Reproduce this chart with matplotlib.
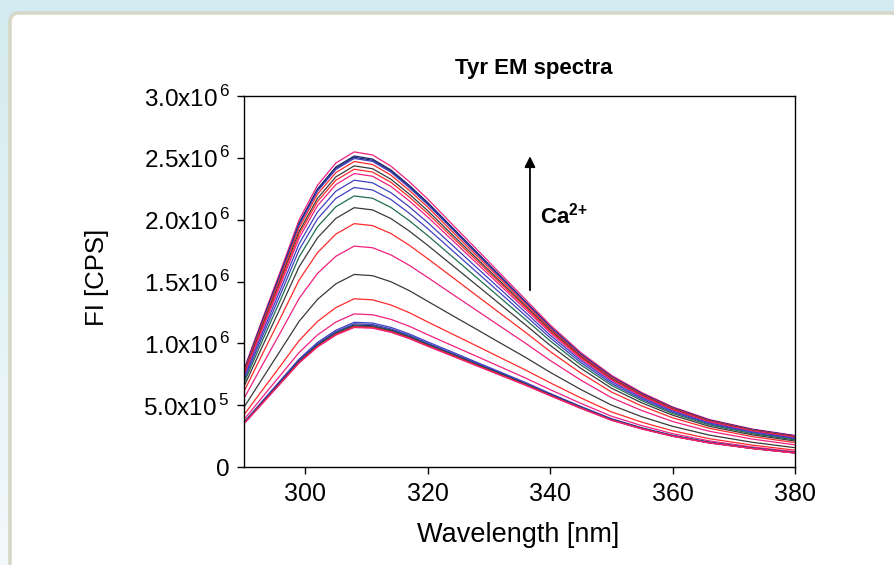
import numpy as np
import matplotlib
matplotlib.use("Agg")
import matplotlib.pyplot as plt
from matplotlib.patches import FancyBboxPatch
from matplotlib.colors import LinearSegmentedColormap

plt.rcParams['font.family'] = ['Liberation Sans', 'DejaVu Sans']
plt.rcParams['mathtext.fontset'] = 'custom'
plt.rcParams['mathtext.rm'] = 'Liberation Sans'
plt.rcParams['mathtext.bf'] = 'Liberation Sans:bold'

# Wavelength axis [nm]
wavelength = [290, 293, 296, 299, 302, 305, 308, 311, 314, 317, 320, 324, 328, 332, 336, 340, 345, 350, 355, 360, 366, 373, 380]

# Emission spectra, FI in units of 1e3 CPS, highest (most Ca2+) first
spectra = [
    [790, 1196, 1591, 1998, 2278, 2458, 2548, 2523, 2433, 2307, 2167, 1963, 1761, 1557, 1353, 1150, 926, 742, 601, 486, 384, 307, 255],
    [780, 1181, 1570, 1972, 2249, 2426, 2515, 2490, 2402, 2277, 2139, 1938, 1738, 1537, 1336, 1135, 914, 732, 593, 480, 379, 303, 252],
    [777, 1176, 1564, 1963, 2239, 2416, 2505, 2480, 2393, 2268, 2130, 1931, 1731, 1532, 1332, 1132, 911, 730, 592, 478, 378, 302, 250],
    [773, 1171, 1557, 1955, 2230, 2406, 2495, 2471, 2384, 2259, 2122, 1924, 1725, 1526, 1328, 1129, 909, 728, 590, 477, 376, 301, 250],
    [766, 1159, 1540, 1933, 2206, 2381, 2470, 2446, 2360, 2237, 2102, 1905, 1709, 1513, 1317, 1120, 902, 723, 586, 474, 374, 298, 247],
    [755, 1141, 1517, 1904, 2172, 2346, 2435, 2412, 2327, 2207, 2073, 1880, 1687, 1494, 1301, 1108, 893, 715, 580, 469, 370, 295, 244],
    [746, 1128, 1499, 1881, 2147, 2319, 2408, 2385, 2302, 2183, 2050, 1860, 1670, 1480, 1290, 1098, 886, 709, 575, 465, 367, 292, 241],
    [736, 1111, 1476, 1851, 2113, 2284, 2373, 2351, 2269, 2152, 2022, 1835, 1648, 1461, 1274, 1086, 876, 702, 569, 460, 363, 288, 237],
    [719, 1084, 1440, 1805, 2062, 2230, 2319, 2298, 2218, 2104, 1977, 1795, 1613, 1432, 1250, 1066, 862, 690, 559, 452, 356, 283, 232],
    [701, 1055, 1401, 1756, 2006, 2172, 2260, 2240, 2163, 2052, 1928, 1752, 1576, 1400, 1223, 1045, 845, 676, 548, 443, 349, 277, 226],
    [680, 1022, 1356, 1698, 1942, 2104, 2192, 2173, 2099, 1992, 1872, 1702, 1532, 1362, 1192, 1020, 826, 661, 536, 433, 341, 270, 219],
    [650, 975, 1294, 1619, 1853, 2010, 2097, 2079, 2009, 1908, 1793, 1632, 1471, 1309, 1148, 984, 798, 638, 518, 419, 329, 260, 210],
    [610, 913, 1210, 1512, 1733, 1883, 1968, 1952, 1888, 1793, 1685, 1536, 1386, 1237, 1088, 934, 760, 607, 493, 398, 313, 246, 197],
    [554, 825, 1092, 1363, 1565, 1704, 1786, 1773, 1715, 1631, 1533, 1399, 1266, 1133, 1000, 862, 703, 561, 456, 368, 289, 226, 179],
    [483, 715, 946, 1178, 1355, 1481, 1557, 1547, 1498, 1426, 1340, 1226, 1113, 999, 886, 766, 627, 501, 406, 329, 258, 200, 156],
    [422, 622, 821, 1022, 1177, 1289, 1360, 1352, 1310, 1248, 1173, 1076, 979, 881, 784, 681, 559, 446, 362, 293, 229, 177, 136],
    [384, 565, 745, 926, 1068, 1172, 1238, 1231, 1194, 1138, 1070, 982, 895, 807, 719, 626, 515, 411, 334, 270, 211, 162, 124],
    [363, 533, 703, 873, 1007, 1106, 1170, 1164, 1129, 1076, 1012, 930, 847, 765, 683, 595, 490, 391, 317, 257, 201, 154, 117],
    [359, 527, 695, 863, 996, 1095, 1158, 1152, 1117, 1065, 1001, 920, 839, 758, 677, 590, 486, 387, 314, 254, 199, 153, 116],
    [356, 522, 689, 856, 988, 1085, 1148, 1142, 1108, 1056, 993, 912, 832, 752, 671, 585, 482, 384, 312, 252, 197, 151, 115],
    [354, 520, 685, 851, 982, 1079, 1142, 1136, 1102, 1051, 988, 908, 828, 748, 668, 582, 480, 382, 311, 251, 196, 151, 114],
    [353, 518, 683, 848, 979, 1075, 1138, 1132, 1098, 1047, 984, 905, 825, 745, 666, 580, 478, 381, 310, 250, 196, 150, 114],
    [352, 516, 680, 845, 975, 1072, 1134, 1128, 1094, 1043, 981, 902, 822, 743, 664, 579, 477, 380, 309, 250, 195, 150, 113],
    [350, 513, 677, 840, 970, 1066, 1128, 1122, 1089, 1038, 976, 897, 818, 739, 660, 576, 474, 378, 307, 248, 194, 149, 113],
]

pink, red, black, blue, green, navy = '#f0207f', '#ff2a2a', '#3a3a3a', '#4040c0', '#1f6e4e', '#1c2a6e'
colors = [pink, navy, navy, blue, red, black, red, pink, blue, blue, green, black,
          red, pink, black, red, pink, blue, blue, navy, green, black, red, pink]

y_ticks = [0, 5e5, 1e6, 1.5e6, 2e6, 2.5e6, 3e6]
y_labels = ['0', r'$\mathrm{5.0x10}^{\,5}$', r'$\mathrm{1.0x10}^{\,6}$', r'$\mathrm{1.5x10}^{\,6}$',
            r'$\mathrm{2.0x10}^{\,6}$', r'$\mathrm{2.5x10}^{\,6}$', r'$\mathrm{3.0x10}^{\,6}$']
x_ticks = [300, 320, 340, 360, 380]

fig = plt.figure(figsize=(8.95, 5.65), dpi=100)

# page background + white rounded panel
bg = fig.add_axes([0, 0, 1, 1])
grad = np.linspace(0, 1, 256).reshape(-1, 1)
cm = LinearSegmentedColormap.from_list('bgc', ['#d3ebf0', '#f3f9fb'])
bg.imshow(grad, cmap=cm, extent=[0, 895, 565, 0], aspect='auto')
bg.add_patch(FancyBboxPatch((10, 13), 900, 580, boxstyle="round,pad=0,rounding_size=9",
                            facecolor='white', edgecolor='#d6d6c6', lw=2.5))
bg.set_xlim(0, 895)
bg.set_ylim(565, 0)
bg.axis('off')

ax = fig.add_axes([244 / 895, 1 - 467 / 565, 551 / 895, 371 / 565])
for s_vals, c in zip(spectra, colors):
    ax.plot(wavelength, np.array(s_vals) * 1000, color=c, lw=0.9)

ax.set_xlim(290, 380)
ax.set_ylim(0, 3.0e6)
ax.set_xticks(x_ticks)
ax.set_yticks(y_ticks)
ax.set_yticklabels(y_labels)
ax.tick_params(direction='out', length=5, width=1)
ax.tick_params(axis='x', pad=6, labelsize=18)
ax.tick_params(axis='y', pad=5, labelsize=17.5)
for s in ax.spines.values():
    s.set_linewidth(1)

ax.set_xlabel('Wavelength [nm]', fontsize=19.5)
ax.xaxis.set_label_coords(0.497, -0.183)
ax.xaxis.label.set_va('center')
ax.set_ylabel('FI [CPS]', fontsize=18.5)
ax.yaxis.set_label_coords(-0.267, 0.51)
ax.yaxis.label.set_va('center')
ax.text(0.526, 1.075, 'Tyr EM spectra', transform=ax.transAxes, ha='center', va='center',
        fontsize=16, fontweight='bold')

# titration arrow
ax.annotate('', xy=(0.519, 0.845), xytext=(0.519, 0.469), xycoords='axes fraction',
            arrowprops=dict(arrowstyle='-|>', color='black', lw=1.3, mutation_scale=16))
ax.text(0.537, 0.679, r'Ca$^{\mathbf{2{+}}}$', transform=ax.transAxes, ha='left', va='center',
        fontsize=16, fontweight='bold')

fig.savefig('out.png', dpi=100)
